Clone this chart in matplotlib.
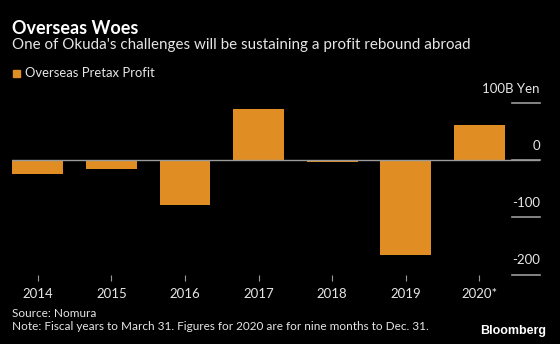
import matplotlib.pyplot as plt
from matplotlib import transforms

plt.rcParams["font.family"] = ["Lato", "DejaVu Sans"]

# data (100B yen)
years = ["2014", "2015", "2016", "2017", "2018", "2019", "2020*"]
profit = [-24, -15, -79, 90, -3, -166, 62]
yticks = [-200, -100, 0, 100]
ytick_labels = ["-200", "-100", "0", "100B Yen"]

orange = "#E08D23"
grey = "#9a9a9a"
text_c = "#e6e6e6"

fig = plt.figure(figsize=(5.6, 3.44), dpi=100, facecolor="black")
ax = fig.add_axes([0.0214, 0.202, 0.9426, 0.4986], facecolor="black")

x = range(len(years))
ax.bar(x, profit, width=0.69, color=orange, zorder=2)
ax.axhline(0, color=grey, lw=1, zorder=3)

ax.set_xlim(-0.35, 6.82)
ax.set_ylim(-200, 100)

for s in ax.spines.values():
    s.set_visible(False)

ax.set_xticks(list(x))
ax.set_xticklabels(years)
ax.tick_params(axis="x", colors=grey, length=4, width=0.8, pad=6,
               labelsize=9.5, labelcolor=text_c)

# right-hand "underline" style y ticks
ax.set_yticks([])
trans = transforms.blended_transform_factory(ax.transAxes, ax.transData)
for v, lab in zip(yticks, ytick_labels):
    ax.plot([0.948, 1.0], [v, v], color=grey, lw=1.2, transform=trans,
            clip_on=False, zorder=3)
    off = transforms.offset_copy(trans, fig=fig, x=0, y=6, units="points")
    ax.text(1.0, v, lab, transform=off, ha="right", va="bottom",
            color=text_c, fontsize=9.5)

fig.text(0.021, 0.918, "Overseas Woes", color="white", fontsize=13,
         fontweight="bold", va="center")
fig.text(0.021, 0.868, "One of Okuda's challenges will be sustaining a profit rebound abroad",
         color=text_c, fontsize=10.9, va="center")

fig.patches.append(plt.Rectangle((0.024, 0.775), 0.0125, 0.022, color=orange,
                                 transform=fig.transFigure, figure=fig))
fig.text(0.044, 0.787, "Overseas Pretax Profit", color=text_c, fontsize=9.4,
         va="center")

fig.text(0.021, 0.088, "Source: Nomura", color=text_c, fontsize=8.5, va="center")
fig.text(0.021, 0.050,
         "Note: Fiscal years to March 31. Figures for 2020 are for nine months to Dec. 31.",
         color=text_c, fontsize=8.5, va="center")
fig.text(0.975, 0.038, "Bloomberg", color="white", fontsize=9,
         fontweight="bold", ha="right", va="center", family=["Liberation Sans", "DejaVu Sans"])

fig.savefig("out.png", dpi=100, facecolor="black")
